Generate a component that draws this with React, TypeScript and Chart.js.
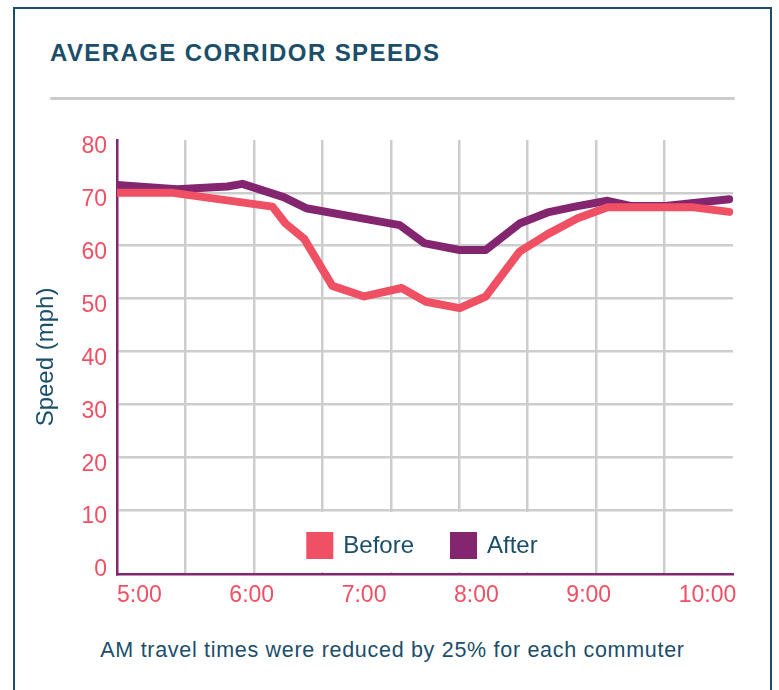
import React, { useEffect, useRef } from 'react';
import { Chart, registerables } from 'chart.js';

Chart.register(...registerables);

// ---------- data ----------
const TITLE = 'AVERAGE CORRIDOR SPEEDS';
const CAPTION = 'AM travel times were reduced by 25% for each commuter';
const Y_TITLE = 'Speed (mph)';
const SERIES_NAMES = ['Before', 'After'];

// times in minutes after midnight (300 = 5:00)
const BEFORE_TIMES = [300, 330, 383, 390, 400, 415, 432, 452, 465, 483, 497, 515, 530, 546, 562, 575, 607, 627];
const BEFORE_SPEEDS = [70.0, 70.0, 67.4, 64.2, 61.3, 52.4, 50.4, 52.0, 49.4, 48.2, 50.4, 58.9, 62.2, 65.2, 67.3, 67.3, 67.3, 66.4];

const AFTER_TIMES = [300, 332, 359, 367, 389, 401, 451, 464, 483, 497, 515, 530, 546, 562, 575, 593, 627];
const AFTER_SPEEDS = [71.5, 70.7, 71.2, 71.7, 69.2, 67.1, 63.9, 60.5, 59.2, 59.2, 64.2, 66.3, 67.5, 68.5, 67.5, 67.5, 68.8];

const HOUR_TICKS = [300, 360, 420, 480, 540, 600];
const HOUR_LABELS = ['5:00', '6:00', '7:00', '8:00', '9:00', '10:00'];
const SPEED_TICKS = [0, 10, 20, 30, 40, 50, 60, 70, 80];

const X_MIN = 300;
const X_MAX = 629;
const Y_MIN = -2.1;
const Y_MAX = 80;
const V_GRID_DIVISIONS = 9;

// ---------- styles ----------
const FONT = "'Liberation Sans', Arial, Helvetica, sans-serif";
const RED = '#ef5064';
const PURPLE = '#84256f';
const TEAL = '#1b4e6b';
const GRID = '#cdcdcd';

const toPts = (xs: number[], ys: number[]) => xs.map((x, i) => ({ x, y: ys[i] }));

const insideLegend = {
  id: 'insideLegend',
  beforeDatasetsDraw(chart: any) {
    const { ctx, chartArea } = chart;
    const yScale = chart.scales.y;
    ctx.save();
    ctx.font = `24px ${FONT}`;
    const box = 27, gap = 10, itemGap = 36;
    const items = chart.data.datasets.map((ds: any) => ({
      text: ds.label as string,
      color: ds.borderColor as string,
      w: ctx.measureText(ds.label).width,
    }));
    const total = items.reduce((s: number, it: any) => s + box + gap + it.w, 0) + itemGap * (items.length - 1);
    const startX = (chartArea.left + chartArea.right) / 2 - total / 2 - 3;
    const cy = chartArea.bottom - 28.5;
    // white backing behind legend
    ctx.fillStyle = '#ffffff';
    const top = yScale.getPixelForValue(10) + 2;
    ctx.fillRect(startX - 20, top, total + 40, chartArea.bottom - 2 - top);
    let x = startX;
    ctx.textBaseline = 'middle';
    ctx.textAlign = 'left';
    for (const it of items) {
      ctx.fillStyle = it.color;
      ctx.fillRect(x, cy - box / 2, box, box);
      x += box + gap;
      ctx.fillStyle = TEAL;
      ctx.fillText(it.text, x, cy + 1);
      x += it.w + itemGap;
    }
    ctx.restore();
  },
};

export default function App() {
  const ref = useRef<HTMLCanvasElement>(null);

  useEffect(() => {
    if (!ref.current) return;
    const chart = new Chart(ref.current, {
      type: 'line',
      data: {
        datasets: [
          {
            label: SERIES_NAMES[0],
            data: toPts(BEFORE_TIMES, BEFORE_SPEEDS),
            borderColor: RED,
            backgroundColor: RED,
            borderWidth: 8,
            pointRadius: 0,
            tension: 0,
            borderCapStyle: 'round',
            borderJoinStyle: 'round',
            xAxisID: 'x',
            yAxisID: 'y',
          },
          {
            label: SERIES_NAMES[1],
            data: toPts(AFTER_TIMES, AFTER_SPEEDS),
            borderColor: PURPLE,
            backgroundColor: PURPLE,
            borderWidth: 8,
            pointRadius: 0,
            tension: 0,
            borderCapStyle: 'round',
            borderJoinStyle: 'round',
            xAxisID: 'x',
            yAxisID: 'y',
          },
        ],
      },
      options: {
        animation: false,
        responsive: false,
        maintainAspectRatio: false,
        devicePixelRatio: 1,
        layout: { padding: { left: 0, right: 37, top: 30, bottom: 6 } },
        plugins: {
          legend: { display: false },
          tooltip: { enabled: false },
          title: { display: false },
        },
        scales: {
          xg: {
            type: 'linear',
            position: 'top',
            min: X_MIN,
            max: X_MAX,
            afterBuildTicks: (scale: any) => {
              scale.ticks = Array.from({ length: V_GRID_DIVISIONS + 1 }, (_, k) => ({
                value: X_MIN + (k * (X_MAX - X_MIN)) / V_GRID_DIVISIONS,
              }));
            },
            afterFit: (scale: any) => {
              scale.height = 0;
            },
            ticks: { display: false },
            border: { display: false },
            grid: {
              drawTicks: false,
              lineWidth: 2.5,
              color: (c: any) =>
                c.index === 0 || c.index === V_GRID_DIVISIONS ? 'rgba(0,0,0,0)' : GRID,
            },
          },
          x: {
            type: 'linear',
            position: 'bottom',
            min: X_MIN,
            max: X_MAX,
            afterBuildTicks: (scale: any) => {
              scale.ticks = HOUR_TICKS.map((v) => ({ value: v }));
            },
            afterFit: (scale: any) => {
              scale.height = 40;
            },
            grid: { display: false, drawTicks: false },
            border: { display: true, color: PURPLE, width: 2.5 },
            ticks: {
              autoSkip: false,
              maxRotation: 0,
              align: 'start',
              padding: 8,
              color: RED,
              font: { family: FONT, size: 23 },
              callback: (v: any) => HOUR_LABELS[HOUR_TICKS.indexOf(Number(v))] ?? '',
            },
          },
          y: {
            type: 'linear',
            position: 'left',
            min: Y_MIN,
            max: Y_MAX,
            afterBuildTicks: (scale: any) => {
              scale.ticks = SPEED_TICKS.map((v) => ({ value: v }));
            },
            afterFit: (scale: any) => {
              scale.width = 101;
            },
            border: { display: true, color: PURPLE, width: 2.5 },
            grid: {
              drawTicks: false,
              lineWidth: 2.5,
              color: (c: any) =>
                c.tick && (c.tick.value === 0 || c.tick.value === 80) ? 'rgba(0,0,0,0)' : GRID,
            },
            ticks: {
              padding: 10,
              labelOffset: 7,
              color: RED,
              font: { family: FONT, size: 23 },
              callback: (v: any) => String(v),
            },
            title: {
              display: true,
              text: Y_TITLE,
              color: TEAL,
              font: { family: FONT, size: 24 },
              padding: { top: 16, bottom: 0 },
            },
          },
        },
      },
      plugins: [insideLegend],
    } as any);
    return () => chart.destroy();
  }, []);

  return (
    <div
      style={{
        position: 'absolute',
        left: 0,
        top: 0,
        width: 779,
        height: 690,
        overflow: 'hidden',
        background: '#ffffff',
        fontFamily: FONT,
      }}
    >
      <div
        style={{
          position: 'absolute',
          left: 13,
          top: 7,
          width: 759,
          height: 720,
          boxSizing: 'border-box',
          borderTop: `2px solid ${TEAL}`,
          borderLeft: `2px solid ${TEAL}`,
          borderRight: `2px solid ${TEAL}`,
        }}
      />
      <div
        style={{
          position: 'absolute',
          left: 50,
          top: 41,
          fontSize: 24,
          lineHeight: '24px',
          fontWeight: 700,
          letterSpacing: '1.4px',
          color: TEAL,
          whiteSpace: 'nowrap',
        }}
      >
        {TITLE}
      </div>
      <div
        style={{
          position: 'absolute',
          left: 50,
          top: 97,
          width: 685,
          height: 3,
          borderRadius: 1.5,
          background: '#cbcbcb',
        }}
      />
      <canvas
        ref={ref}
        width={754}
        height={510}
        style={{ position: 'absolute', left: 16, top: 110, width: 754, height: 510 }}
      />
      <div
        style={{
          position: 'absolute',
          left: 15,
          width: 755,
          top: 638,
          fontSize: 21.5,
          lineHeight: '24px',
          letterSpacing: '0.7px',
          color: TEAL,
          textAlign: 'center',
          whiteSpace: 'nowrap',
        }}
      >
        {CAPTION}
      </div>
    </div>
  );
}
